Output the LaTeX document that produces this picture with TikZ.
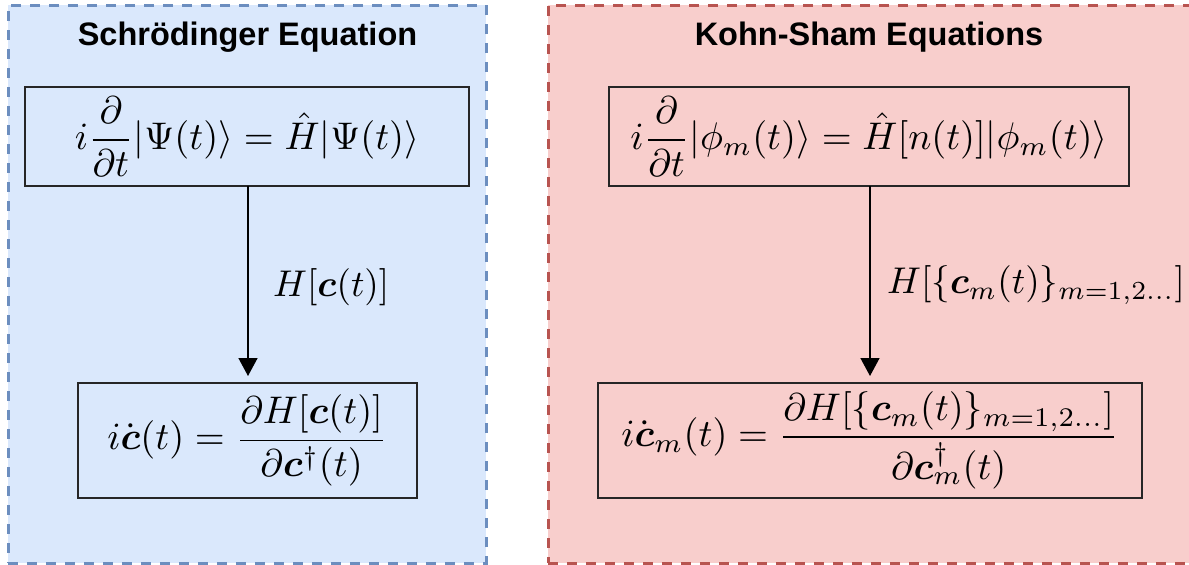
\documentclass[tikz,border=0pt]{standalone}
\usepackage{amsmath,amssymb}
\usepackage{graphicx}
\usepackage{fontspec}
\newfontfamily\titlefont{Liberation Sans}
\usetikzlibrary{arrows.meta}
\definecolor{bluefill}{HTML}{DAE8FC}
\definecolor{bluedraw}{HTML}{6C8EBF}
\definecolor{redfill}{HTML}{F8CECC}
\definecolor{reddraw}{HTML}{B85450}
\newcommand{\bc}{\boldsymbol{c}}
\newcommand{\mth}[1]{\scalebox{3.85}{$\displaystyle #1$}}
\newcommand{\mlab}[1]{\scalebox{3.72}{$\displaystyle #1$}}
\tikzset{
  container/.style={rectangle, inner sep=0pt, outer sep=0pt, line width=3pt, dash pattern=on 10pt off 9pt},
  eqbox/.style={rectangle, draw=black!85, line width=1.8pt, inner sep=0pt, outer sep=0pt},
  titletext/.style={inner sep=0pt, font=\titlefont\bfseries\fontsize{32.5}{38}\selectfont},
  mathtext/.style={inner sep=0pt},
  arr/.style={line width=1.5pt, -{Triangle[width=19pt,length=18pt]}, shorten >=7pt},
}
\begin{document}
\begin{tikzpicture}[x=1pt,y=-1pt]
\useasboundingbox (0,0) rectangle (1189,565);
% containers
\node[container, fill=bluefill, draw=bluedraw, minimum width=478pt, minimum height=558pt] (leftc) at (247,284) {};
\node[container, fill=redfill, draw=reddraw, minimum width=642pt, minimum height=558pt] (rightc) at (869,284) {};
% titles
\node[titletext] (ltitle) at (247.5,37) {Schrödinger Equation};
\node[titletext] (rtitle) at (869,37) {Kohn-Sham Equations};
% equation boxes
\node[eqbox, minimum width=444pt, minimum height=99pt] (tl) at (247,136.5)
  {\mth{i\frac{\partial}{\partial t}|\Psi(t)\rangle = \hat{H}|\Psi(t)\rangle}};
\node[eqbox, minimum width=520pt, minimum height=99pt] (tr) at (869,136.5)
  {\mth{i\frac{\partial}{\partial t}|\phi_m(t)\rangle = \hat{H}[n(t)]|\phi_m(t)\rangle}};
\node[eqbox, minimum width=339pt, minimum height=115pt] (bl) at (247.5,440.5)
  {\mth{i\dot{\bc}(t) = \frac{\partial H[\bc(t)]}{\partial \bc^\dagger(t)}}};
\node[eqbox, minimum width=544pt, minimum height=115pt] (br) at (870,440.5)
  {\mth{i\dot{\bc}_m(t) = \frac{\partial H[\{\bc_m(t)\}_{m=1,2\ldots}]}{\partial \bc_m^\dagger(t)}}};
% arrows
\coordinate (la) at (248,186);
\coordinate (ra) at (870,186);
\draw[arr] (la) -- (la |- bl.north);
\draw[arr] (ra) -- (ra |- br.north);
% labels
\node[mathtext, anchor=west] (llab) at (273,287) {\mlab{H[\bc(t)]}};
\node[mathtext, anchor=west] (rlab) at (887,285) {\mlab{H[\{\bc_m(t)\}_{m=1,2\ldots}]}};
\end{tikzpicture}
\end{document}
